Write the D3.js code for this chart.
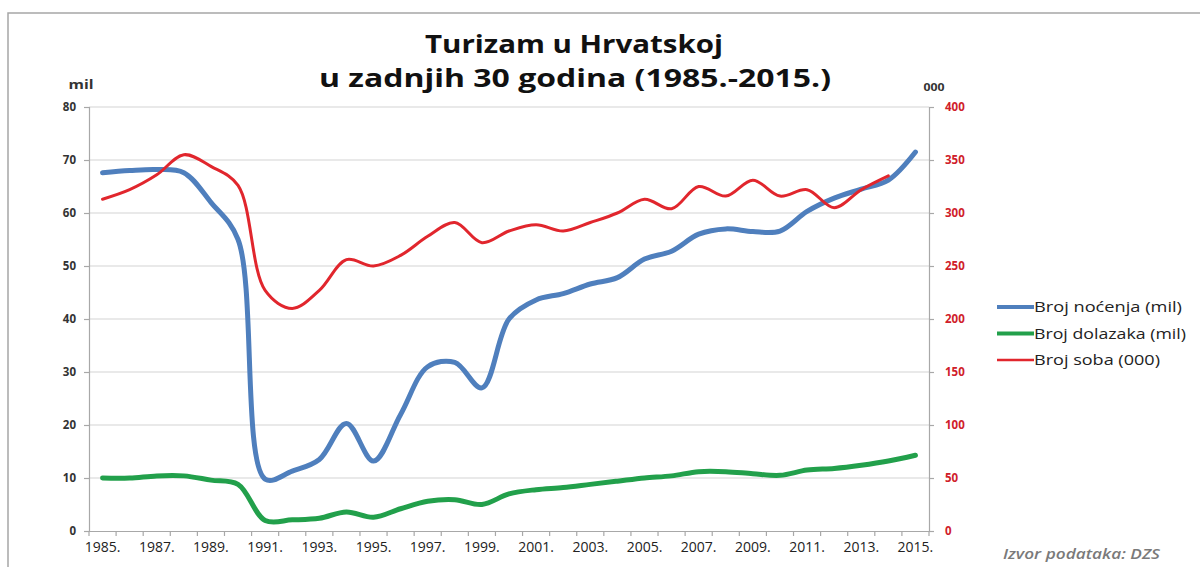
<!DOCTYPE html>
<html><head><meta charset="utf-8">
<script src="https://cdn.jsdelivr.net/npm/d3@7"></script>
<style>body{margin:0;background:#fff;} svg{display:block;}</style>
</head><body>
<svg id="c" width="1200" height="567"></svg>
<script>
const years = d3.range(1985, 2016).map(String);
const nocenja = [67.6,68.0,68.2,67.6,62.0,55.0,9.8,11.3,13.5,20.3,13.2,22.0,31.0,31.8,27.0,40.0,43.6,44.8,46.6,47.8,51.3,52.8,56.0,57.0,56.5,56.6,60.3,62.8,64.5,66.2,71.5];
const dolasci = [10.0,10.0,10.4,10.4,9.6,8.8,2.0,2.1,2.4,3.6,2.6,4.2,5.6,5.9,5.0,7.0,7.8,8.2,8.8,9.4,10.0,10.4,11.2,11.2,10.8,10.5,11.5,11.8,12.4,13.2,14.3];
const sobe = [313,322,336,355,344,326,227,210,227,256,250,260,278,291,272,283,289,283,291,300,313,304,325,316,331,316,322,305,322,335,null];
const leftTicks = [0,10,20,30,40,50,60,70,80];
const rightTicks = [0,50,100,150,200,250,300,350,400];
const xLabels = years.filter((d,i)=>i%2===0).map(d=>d+".");
const legendItems = [
  {name:"Broj noćenja (mil)", color:"#4f7fbd", w:4, len:148},
  {name:"Broj dolazaka (mil)", color:"#22a04b", w:4, len:152},
  {name:"Broj soba (000)", color:"#e1262d", w:2.5, len:126}
];

const svg = d3.select("#c");
const L=89, R=929, T=107, B=531;
const FF = "Open Sans, sans-serif";

// frame
svg.append("path").attr("d","M8,567 L8,13 L1200,13").attr("fill","none").attr("stroke","#a6a6a6").attr("stroke-width",1.5);

const x = d3.scaleBand().domain(years).range([L,R]).padding(0);
const yL = d3.scaleLinear().domain([0,80]).range([B,T]);
const yR = d3.scaleLinear().domain([0,400]).range([B,T]);

// gridlines
svg.append("g").selectAll("line").data(leftTicks.slice(1)).join("line")
  .attr("x1",L).attr("x2",R).attr("y1",d=>yL(d)).attr("y2",d=>yL(d))
  .attr("stroke","#d3d3d3").attr("stroke-width",1.2);

// left axis
const gl = svg.append("g").attr("transform",`translate(${L},0)`)
  .call(d3.axisLeft(yL).tickValues(leftTicks).tickSize(5).tickPadding(8));
gl.selectAll("path,line").attr("stroke","#a8a8a8").attr("stroke-width",1.2);
gl.selectAll("text").attr("font-family",FF).attr("font-weight","bold").attr("font-size",11.5).attr("fill","#333");

// right axis
const gr = svg.append("g").attr("transform",`translate(${R},0)`)
  .call(d3.axisRight(yR).tickValues(rightTicks).tickSize(5).tickPadding(11));
gr.selectAll("path,line").attr("stroke","#a8a8a8").attr("stroke-width",1.2);
gr.selectAll("text").attr("font-family",FF).attr("font-weight","bold").attr("font-size",11.5).attr("fill","#d0202a");

// x axis
const gx = svg.append("g").attr("transform",`translate(0,${B})`)
  .call(d3.axisBottom(x).tickValues([]).tickSize(0));
gx.select("path").attr("stroke","#a8a8a8").attr("stroke-width",1.2);
svg.append("g").selectAll("line").data(years.concat(["end"])).join("line")
  .attr("x1",(d,i)=>L+i*x.bandwidth()).attr("x2",(d,i)=>L+i*x.bandwidth())
  .attr("y1",B).attr("y2",B+5).attr("stroke","#a8a8a8").attr("stroke-width",1.2);
svg.append("g").selectAll("text").data(xLabels).join("text")
  .attr("x",d=>x(d.slice(0,4))+x.bandwidth()/2).attr("y",B+21)
  .attr("text-anchor","middle").attr("font-family",FF).attr("font-size",14).attr("fill","#222")
  .text(d=>d);

// lines
const cx = (d,i)=>x(years[i])+x.bandwidth()/2;
const lineL = d3.line().x(cx).y(d=>yL(d)).curve(d3.curveCatmullRom.alpha(0.5));
const lineR = d3.line().defined(d=>d!==null).x(cx).y(d=>yR(d)).curve(d3.curveCatmullRom.alpha(0.5));
svg.append("path").datum(dolasci).attr("d",lineL).attr("fill","none").attr("stroke","#22a04b").attr("stroke-width",5).attr("stroke-linecap","round");
svg.append("path").datum(nocenja).attr("d",lineL).attr("fill","none").attr("stroke","#4f7fbd").attr("stroke-width",5).attr("stroke-linecap","round");
svg.append("path").datum(sobe).attr("d",lineR).attr("fill","none").attr("stroke","#e1262d").attr("stroke-width",3).attr("stroke-linecap","round");

// titles
const tAttrs = s=>s.attr("text-anchor","middle").attr("font-family",FF).attr("font-weight","bold").attr("fill","#111").attr("font-size",25).attr("lengthAdjust","spacingAndGlyphs");
svg.append("text").call(tAttrs).attr("x",574).attr("y",53).attr("textLength",298).text("Turizam u Hrvatskoj");
svg.append("text").call(tAttrs).attr("x",575).attr("y",87).attr("textLength",512).text("u zadnjih 30 godina (1985.-2015.)");

svg.append("text").attr("x",81).attr("y",89).attr("text-anchor","middle").attr("font-family",FF).attr("font-weight","bold").attr("font-size",12).attr("textLength",25).attr("lengthAdjust","spacingAndGlyphs").attr("fill","#333").text("mil");
svg.append("text").attr("x",934).attr("y",91).attr("text-anchor","middle").attr("font-family",FF).attr("font-weight","bold").attr("font-size",10).attr("textLength",21).attr("lengthAdjust","spacingAndGlyphs").attr("fill","#333").text("000");

// legend
const lg = svg.append("g").selectAll("g").data(legendItems).join("g")
  .attr("transform",(d,i)=>`translate(997,${307+i*26.5})`);
lg.append("line").attr("x1",0).attr("x2",37).attr("y1",0).attr("y2",0).attr("stroke",d=>d.color).attr("stroke-width",d=>d.w);
lg.append("text").attr("x",37).attr("y",5).attr("font-family",FF).attr("font-size",14).attr("fill","#222")
  .attr("textLength",d=>d.len).attr("lengthAdjust","spacingAndGlyphs").text(d=>d.name);

// source
svg.append("text").attr("x",1160).attr("y",559).attr("text-anchor","end").attr("font-family",FF).attr("font-style","italic").attr("font-weight","600").attr("font-size",14).attr("textLength",157).attr("lengthAdjust","spacingAndGlyphs").attr("fill","#7a7a7a").text("Izvor podataka: DZS");
</script>
</body></html>
